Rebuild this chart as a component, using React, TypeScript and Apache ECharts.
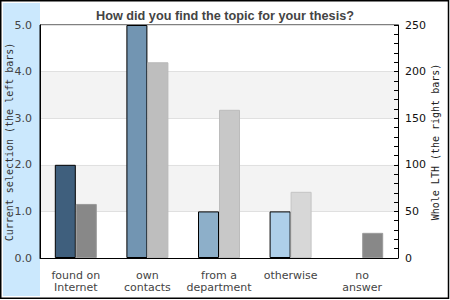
import React, { useEffect, useRef } from "react";
import * as echarts from "echarts";

const categories = ["found on\nInternet", "own\ncontacts", "from a\ndepartment", "otherwise", "no\nanswer"];
const currentSelection: (number | null)[] = [2, 5, 1, 1, null];
const wholeLTH = [58, 210, 159, 71, 27];
const leftColors = ["#3f5f7d", "#7295b2", "#8dafc9", "#aecfe9", "#c8e4f6"];
const rightColors = ["#888888", "#bebebe", "#c8c8c8", "#d7d7d7", "#888888"];
const rightBorders = ["#9a9a9a", "#b8b8b8", "#bcbcbc", "#c4c4c4", "#9a9a9a"];
const leftTicks = [0, 5, 1];
const rightTicks = [0, 250, 50];

export default function App() {
  const ref = useRef<HTMLDivElement>(null);
  useEffect(() => {
    if (!ref.current) return;
    const chart = echarts.init(ref.current, null, { renderer: "svg" });
    const sans = "DejaVu Sans";
    const mono = "DejaVu Sans Mono";
    chart.setOption({
      animation: false,
      backgroundColor: "#ffffff",
      title: {
        text: "How did you find the topic for your thesis?",
        left: "center",
        top: 4,
        textStyle: { fontFamily: "Liberation Sans", fontSize: 12.7, fontWeight: "bold", color: "#444444" },
      },
      graphic: [
        {
          type: "rect",
          z: -1,
          shape: { x: 3, y: 3, width: 37, height: 293 },
          style: { fill: "#cbe8fd" },
        },
        {
          type: "rect",
          z: 100,
          shape: { x: 0.75, y: 0.75, width: 447.75, height: 297.5 },
          style: { fill: "none", stroke: "#000000", lineWidth: 1.5 },
        },
        {
          type: "text",
          z: 100,
          x: 9,
          y: 142,
          rotation: Math.PI / 2,
          style: {
            text: "Current selection (the left bars)",
            font: `10px "${mono}"`,
            fill: "#333333",
            align: "center",
            verticalAlign: "middle",
          },
        },
        {
          type: "text",
          z: 100,
          x: 435,
          y: 142,
          rotation: Math.PI / 2,
          style: {
            text: "Whole LTH (the right bars)",
            font: `10px "${mono}"`,
            fill: "#222222",
            align: "center",
            verticalAlign: "middle",
          },
        },
      ],
      grid: {
        left: 40,
        top: 25,
        right: 52,
        bottom: 42,
        show: true,
        borderColor: "#000000",
        borderWidth: 1,
        backgroundColor: "transparent",
      },
      xAxis: {
        type: "category",
        data: categories,
        axisLine: { show: true, lineStyle: { color: "#000000", width: 1 } },
        axisTick: { show: false },
        axisLabel: {
          interval: 0,
          fontFamily: sans,
          fontSize: 11,
          color: "#444444",
          margin: 11,
          lineHeight: 12,
          align: "center",
        },
      },
      yAxis: [
        {
          type: "value",
          min: leftTicks[0],
          max: leftTicks[1],
          interval: leftTicks[2],
          axisLine: { show: true, lineStyle: { color: "#000000" } },
          axisTick: { show: false },
          axisLabel: {
            fontFamily: sans,
            fontSize: 11,
            color: "#444444",
            margin: 8,
            formatter: (v: number) => v.toFixed(1),
          },
          splitLine: { show: true, lineStyle: { color: "#e0e0e0", width: 1 } },
          splitArea: { show: true, areaStyle: { color: ["#ffffff", "#f3f3f3"] } },
        },
        {
          type: "value",
          position: "right",
          min: rightTicks[0],
          max: rightTicks[1],
          interval: rightTicks[2],
          axisLine: { show: true, lineStyle: { color: "#000000" } },
          axisTick: { show: true, inside: true, length: 4, lineStyle: { color: "#000000" } },
          minorTick: { show: true, splitNumber: 5, length: 4, lineStyle: { color: "#000000" } },
          axisLabel: { fontFamily: sans, fontSize: 11, color: "#111111", margin: 7 },
          splitLine: { show: false },
        },
      ],
      series: [
        {
          type: "bar",
          yAxisIndex: 0,
          barWidth: 21,
          barGap: "0%",
          data: currentSelection.map((v, i) => ({
            value: v,
            itemStyle: { color: leftColors[i], borderColor: "#000000", borderWidth: 1 },
          })),
        },
        {
          type: "bar",
          yAxisIndex: 1,
          barWidth: 21,
          barGap: "0%",
          data: wholeLTH.map((v, i) => ({
            value: v,
            itemStyle: { color: rightColors[i], borderColor: rightBorders[i], borderWidth: 1 },
          })),
        },
      ],
    });
    return () => chart.dispose();
  }, []);
  return <div ref={ref} style={{ position: "fixed", left: 0, top: 0, width: 450, height: 300 }} />;
}
